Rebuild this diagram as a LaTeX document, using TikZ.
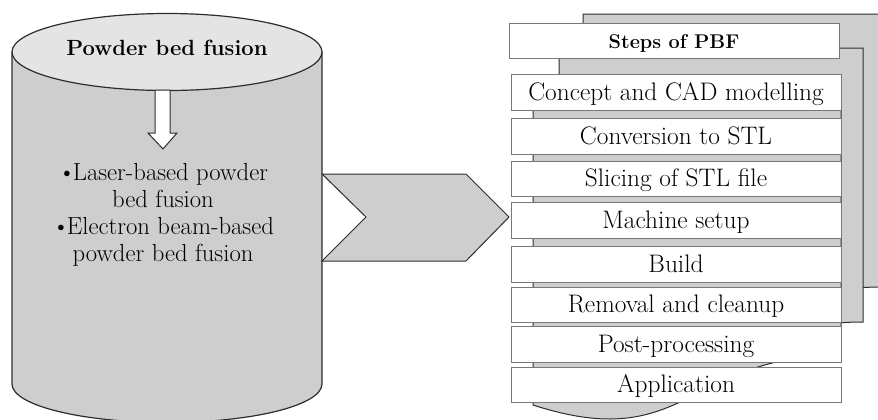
\documentclass[tikz,border=0pt]{standalone}
\usepackage{fontspec}
\definecolor{canbody}{RGB}{206,206,206}
\definecolor{cantop}{RGB}{228,228,228}
\definecolor{docgray}{RGB}{206,206,206}
\definecolor{edgeline}{RGB}{45,45,45}
\definecolor{boxline}{RGB}{120,120,120}
\tikzset{
  stepbox/.style={draw=boxline, fill=white, line width=0.6pt, minimum width=247.5pt, minimum height=26.6pt, inner sep=0pt, text height=13pt, text depth=1.6pt, font=\fontsize{19}{22}\selectfont},
  docshape/.style={draw=edgeline, fill=docgray, line width=0.75pt},
}
\begin{document}
\begin{tikzpicture}[x=0.75pt,y=0.75pt,yscale=-1,xscale=1]
\path[use as bounding box] (0,0) rectangle (878,419);

%Shape: Can
\draw[draw=edgeline, fill=canbody, line width=0.9pt] (12,52) -- (12,384) arc[start angle=180, end angle=0, x radius=155, y radius=38.5] -- (322,52);
\draw[draw=edgeline, fill=cantop, line width=0.9pt] (167,52) ellipse [x radius=155, y radius=38.5];

%Shape: Down Arrow
\draw[draw=edgeline, fill=white, line width=0.75pt] (155,90) -- (170,90) -- (170,133) -- (177,133) -- (163,149) -- (148,133) -- (155,133) -- cycle;

%Shape: Chevron
\draw[draw=edgeline, fill=docgray, line width=0.75pt] (322,174) -- (466,174) -- (509,217) -- (466,261) -- (322,261) -- (366,217) -- cycle;

%Shape: Multidocument
\draw[docshape] (583,14) -- (882,14) -- (882,287) .. controls (732,287) and (732,387) .. (583,337) -- cycle;
\draw[docshape] (559,48) -- (863,48) -- (863,322) .. controls (711,322) and (711,422) .. (559,372) -- cycle;
\draw[docshape] (533,95) -- (841,95) -- (841,355) .. controls (687,355) and (687,455) .. (533,405) -- cycle;

% Text Node
\draw (167,48) node (pbf) [font=\bfseries\fontsize{16.5}{19}\selectfont] {Powder bed fusion};
% Text Node
\draw (163,215) node (kinds) [align=center, font=\fontsize{18.5}{20.3}\selectfont] {\textbullet\kern-0.12em Laser-based powder\\bed fusion\\\textbullet\kern-0.12em Electron beam-based\\powder bed fusion};

% Step boxes
\draw (674,41) node (steps) [stepbox, font=\bfseries\fontsize{14.9}{18}\selectfont] {Steps of PBF};
\draw (676,92.5) node (cad) [stepbox] {Concept and CAD modelling};
\draw (676,136.5) node (stl) [stepbox] {Conversion to STL};
\draw (676,179) node (slice) [stepbox] {Slicing of STL file};
\draw (676,220.5) node (setup) [stepbox] {Machine setup};
\draw (676,264.5) node (build) [stepbox] {Build};
\draw (676,305) node (removal) [stepbox] {Removal and cleanup};
\draw (676,344.5) node (post) [stepbox] {Post-processing};
\draw (676,385) node (app) [stepbox] {Application};

\end{tikzpicture}
\end{document}
